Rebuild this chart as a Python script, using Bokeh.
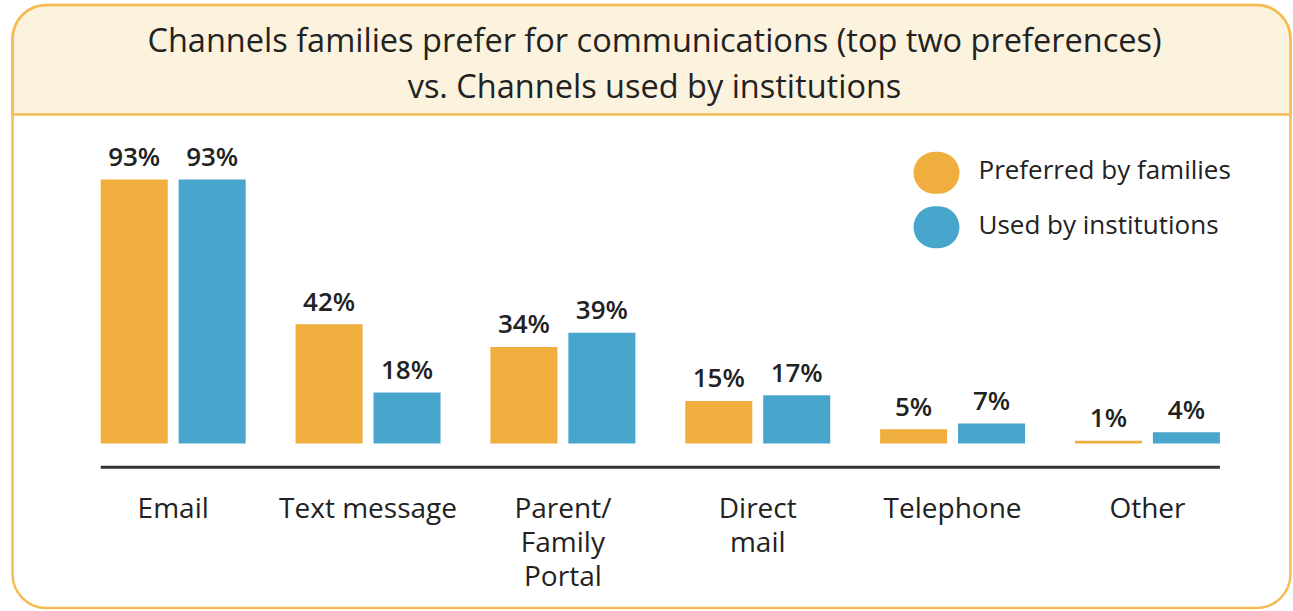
from bokeh.plotting import figure
from bokeh.models import ColumnDataSource, Range1d, BoxAnnotation, Label
from bokeh.transform import dodge
from bokeh.core.properties import value
from bokeh.embed import file_html
from bokeh.resources import INLINE

# ---------------- data ----------------
categories = ["Email", "Text message", "Parent/\nFamily\nPortal", "Direct\nmail", "Telephone", "Other"]
preferred_by_families = [93, 42, 34, 15, 5, 1]
used_by_institutions = [93, 18, 39, 17, 7, 4]
series_names = ["Preferred by families", "Used by institutions"]
title_lines = ["Channels families prefer for communications (top two preferences)",
               "vs. Channels used by institutions"]

# ---------------- style / layout ----------------
ORANGE = "#EFAE3E"
BLUE = "#48A6CC"
BORDER = "#F5BC55"
HEADER_FILL = "#FCF3DF"
TEXT = "#222222"
FONT = "Open Sans"
FONT_MED = "'Open Sans Semibold', 'Open Sans SemiBold', 'Open Sans'"

W, H = 1293, 611
PX_PER_PCT = 2.84
ZERO_Y = 443          # canvas y of 0 %
PX_PER_CAT = 194.85
FIRST_X = 172.7       # canvas x of first category centre
BAR_W = 0.344
OFFSET = 0.2
SHIFT = 10.5          # text baseline correction


def sy(y_from_top):
    return H - y_from_top


idx = list(range(len(categories)))
src = ColumnDataSource(dict(
    idx=idx,
    fam=preferred_by_families,
    inst=used_by_institutions,
    fam_lbl=[f"{v}%" for v in preferred_by_families],
    inst_lbl=[f"{v}%" for v in used_by_institutions],
))

p = figure(width=W, height=H, output_backend="svg", toolbar_location=None,
           x_range=Range1d(-FIRST_X / PX_PER_CAT, (W - FIRST_X) / PX_PER_CAT),
           y_range=Range1d(-(H - ZERO_Y) / PX_PER_PCT, ZERO_Y / PX_PER_PCT),
           x_axis_location=None, y_axis_location=None, min_border=0,
           outline_line_color=None, background_fill_color="white",
           border_fill_color="white")
p.grid.visible = False

# frame: header band and rounded outer box
BOX_L, BOX_R, BOX_T, BOX_B, HEAD_B = 12, 1290, 4.5, 607.5, 114
header = BoxAnnotation(left=BOX_L, right=BOX_R, top=sy(BOX_T), bottom=sy(HEAD_B),
                       left_units="screen", right_units="screen",
                       top_units="screen", bottom_units="screen",
                       fill_color=HEADER_FILL, fill_alpha=1.0,
                       line_color=BORDER, line_width=2.5, line_alpha=1.0,
                       border_radius=(34, 34, 0, 0), level="underlay")
outer = BoxAnnotation(left=BOX_L, right=BOX_R, top=sy(BOX_T), bottom=sy(BOX_B),
                      left_units="screen", right_units="screen",
                      top_units="screen", bottom_units="screen",
                      fill_alpha=0.0, line_color=BORDER, line_width=2.5, line_alpha=1.0,
                      border_radius=34, level="underlay")
p.add_layout(header)
p.add_layout(outer)

# title
for line, base in zip(title_lines, [49.3, 95.0]):
    p.add_layout(Label(x=654, y=sy(base - SHIFT), x_units="screen", y_units="screen",
                       text=line, text_align="center", text_baseline="alphabetic",
                       text_font=FONT, text_font_size="32.5px", text_color=TEXT))

# bars
p.vbar(x=dodge("idx", -OFFSET), top="fam", bottom=0, width=BAR_W, source=src,
       fill_color=ORANGE, line_color=None)
p.vbar(x=dodge("idx", OFFSET), top="inst", bottom=0, width=BAR_W, source=src,
       fill_color=BLUE, line_color=None)

# value labels
for col, lbl, off in [("fam", "fam_lbl", -OFFSET), ("inst", "inst_lbl", OFFSET)]:
    p.text(x=dodge("idx", off), y=col, text=lbl, source=src,
           text_align="center", text_baseline="alphabetic", y_offset=-13 - SHIFT,
           text_font=value(FONT_MED), text_font_size="26px", text_color=TEXT)

# baseline
axis_y = -(466.7 - ZERO_Y) / PX_PER_PCT
p.segment(x0=[idx[0] - OFFSET - BAR_W / 2], x1=[idx[-1] + OFFSET + BAR_W / 2],
          y0=[axis_y], y1=[axis_y], line_color="#333333", line_width=3)

# category labels (multi-line)
split = [c.split("\n") for c in categories]
for k in range(max(len(s) for s in split)):
    xs = [i for i, s in zip(idx, split) if len(s) > k]
    ts = [s[k] for s in split if len(s) > k]
    p.text(x=xs, y=[0] * len(xs), text=ts, text_align="center",
           text_baseline="alphabetic", y_offset=73.7 - SHIFT + 34 * k,
           text_font=value(FONT), text_font_size="28px", text_color=TEXT)

# legend
for name, color, cy, base in [(series_names[0], ORANGE, 172.3, 179.3),
                              (series_names[1], BLUE, 226.7, 234.3)]:
    p.add_layout(BoxAnnotation(left=913, right=959, top=sy(cy - 21), bottom=sy(cy + 21),
                               left_units="screen", right_units="screen",
                               top_units="screen", bottom_units="screen",
                               fill_color=color, fill_alpha=1.0, line_color=None,
                               border_radius=22, level="annotation"))
    p.add_layout(Label(x=978, y=sy(base - SHIFT), x_units="screen", y_units="screen",
                       text=name, text_align="left", text_baseline="alphabetic",
                       text_font=FONT, text_font_size="26px", text_color=TEXT))

open("out.html", "w").write(file_html(p, INLINE))
